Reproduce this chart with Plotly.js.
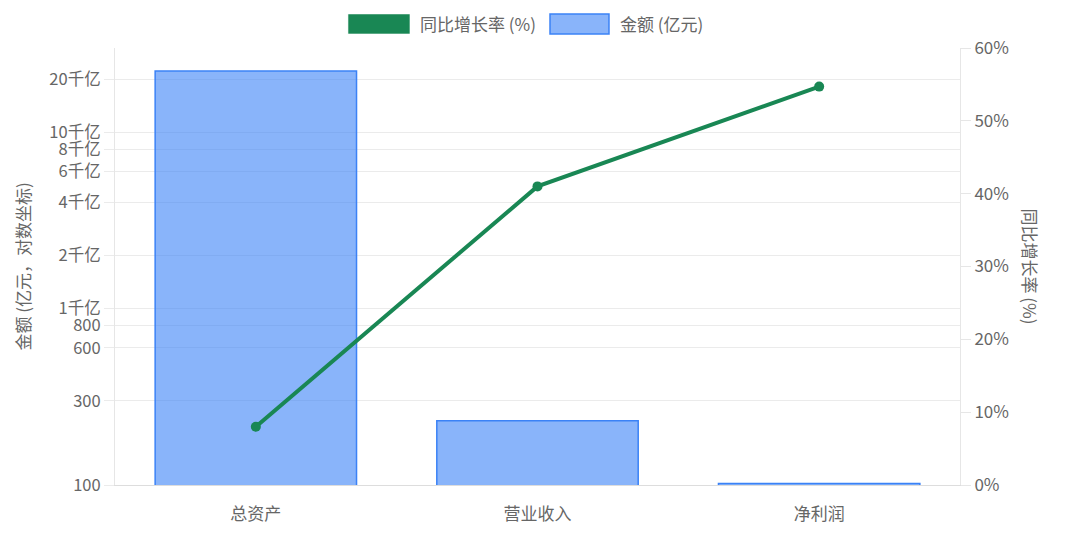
<!DOCTYPE html>
<html>
<head>
<meta charset="utf-8">
<script src="https://cdn.plot.ly/plotly-3.0.1.min.js"></script>
<style>
  html, body { margin: 0; padding: 0; background: #fff; }
  #chart { width: 1080px; height: 546px; }
</style>
</head>
<body>
<div id="chart"></div>
<script>
"use strict"
// 数据
const categories = ['总资产', '营业收入', '净利润'];
const amounts = [22200, 231, 102];          // 亿元
const growthRates = [8.0, 41.0, 54.7];      // %
const amountTickVals = [100, 300, 600, 800, 1000, 2000, 4000, 6000, 8000, 10000, 20000];
const amountTickText = ['100', '300', '600', '800', '1千亿', '2千亿', '4千亿', '6千亿', '8千亿', '10千亿', '20千亿'];
const rateTickVals = [0, 10, 20, 30, 40, 50, 60];
const rateTickText = rateTickVals.map(v => v + '%');

const fontFamily = '"Noto Sans CJK SC", "Noto Sans", sans-serif';
const textColor = '#666';
const green = '#198754';
const blueFill = 'rgba(59,130,246,0.6)';
const blueLine = 'rgb(59,130,246)';

var lineTrace = {
    x: categories,
    y: growthRates,
    name: '同比增长率 (%)',
    type: 'scatter',
    mode: 'lines+markers',
    yaxis: 'y2',
    hoverinfo: 'none',
    line: { color: green, width: 4 },
    marker: { color: green, size: 10 }
};

var barTrace = {
    x: categories,
    y: amounts,
    name: '金额 (亿元)',
    type: 'bar',
    hoverinfo: 'none',
    marker: {
        color: blueFill,
        line: { color: blueLine, width: 1.5 }
    }
};

var data = [lineTrace, barTrace];

// 图例（仿色块样式）
var legendShapes = [
    { type: 'rect', xref: 'paper', yref: 'paper', x0: 0.2757, x1: 0.3491, y0: 1.032, y1: 1.078,
      fillcolor: green, line: { color: 'rgba(255,255,255,0.6)', width: 1 } },
    { type: 'rect', xref: 'paper', yref: 'paper', x0: 0.5148, x1: 0.5846, y0: 1.032, y1: 1.078,
      fillcolor: blueFill, line: { color: blueLine, width: 1.5 } }
];

var layout = {
    width: 1080,
    height: 546,
    margin: { l: 115, r: 120, t: 48, b: 61 },
    paper_bgcolor: '#fff',
    plot_bgcolor: '#fff',
    font: { family: fontFamily, size: 17, color: textColor },
    bargap: 0.285,
    showlegend: false,
    xaxis: {
        type: 'category',
        showgrid: false,
        showline: true,
        linecolor: '#ddd',
        ticks: '',
        ticklabelstandoff: 14,
        tickfont: { size: 17, color: textColor },
        fixedrange: true
    },
    yaxis: {
        type: 'log',
        range: [2, 4.477],
        tickvals: amountTickVals,
        ticktext: amountTickText,
        showgrid: true,
        gridcolor: '#ebebeb',
        showline: true,
        linecolor: '#e6e6e6',
        ticks: 'outside',
        ticklen: 10,
        tickcolor: '#ebebeb',
        tickfont: { size: 16.5, color: textColor },
        zeroline: false
    },
    yaxis2: {
        overlaying: 'y',
        side: 'right',
        range: [0, 60],
        tickvals: rateTickVals,
        ticktext: rateTickText,
        showgrid: false,
        showline: true,
        linecolor: '#e6e6e6',
        ticks: 'outside',
        ticklen: 10,
        tickcolor: '#e6e6e6',
        tickfont: { size: 17, color: textColor },
        zeroline: false
    },
    shapes: legendShapes,
    annotations: [
        {
            text: '金额 (亿元，对数坐标)',
            xref: 'paper', yref: 'paper',
            x: -0.110, y: 0.5,
            xanchor: 'center', yanchor: 'middle',
            showarrow: false,
            textangle: -90,
            font: { size: 17, color: textColor }
        },
        {
            text: '同比增长率 (%)',
            xref: 'paper', yref: 'paper',
            x: 1.0, xshift: 70,
            y: 0.5,
            xanchor: 'center', yanchor: 'middle',
            showarrow: false,
            textangle: 90,
            font: { size: 17, color: textColor }
        },
        {
            text: '同比增长率 (%)',
            xref: 'paper', yref: 'paper',
            x: 0.3586, y: 1.055,
            xanchor: 'left', yanchor: 'middle',
            showarrow: false,
            font: { size: 17, color: textColor }
        },
        {
            text: '金额 (亿元)',
            xref: 'paper', yref: 'paper',
            x: 0.5953, y: 1.055,
            xanchor: 'left', yanchor: 'middle',
            showarrow: false,
            font: { size: 17, color: textColor }
        }
    ]
};

Plotly.newPlot(document.getElementById('chart'), data, layout, { displayModeBar: false, staticPlot: true });
</script>
</body>
</html>
